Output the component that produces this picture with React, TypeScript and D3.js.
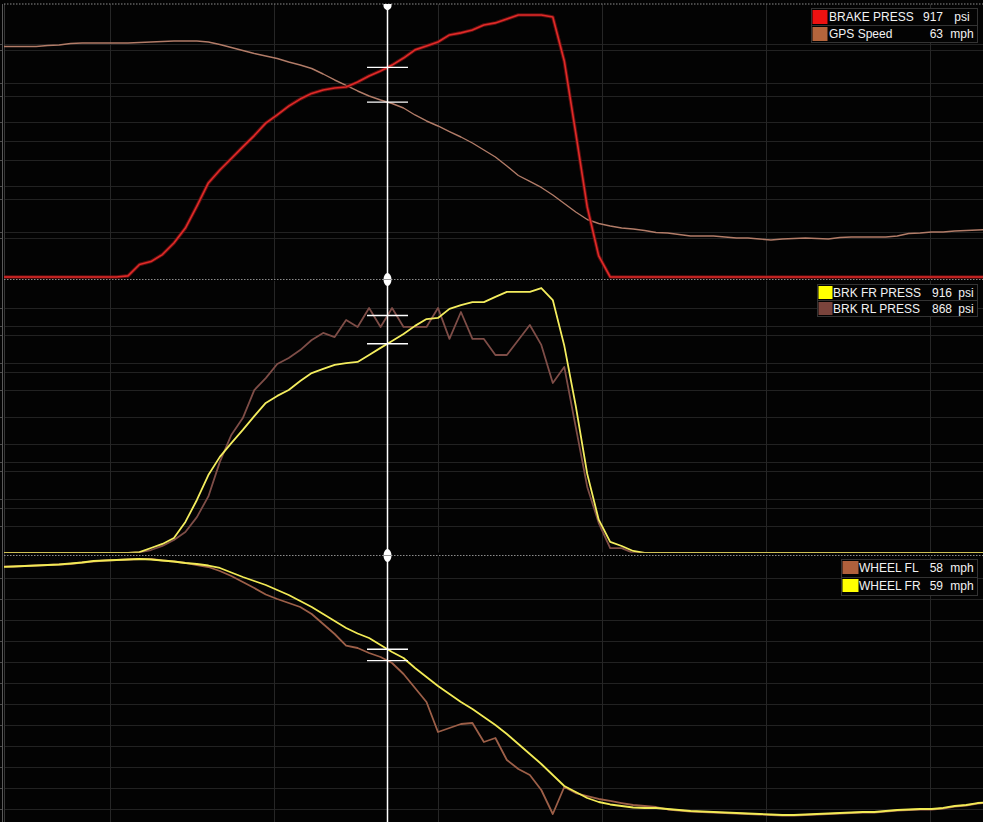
import React from 'react';
import * as d3 from 'd3';

// ---- time base (s) ----
const sampleCount = 87;
const sampleStart = 0.34;
const sampleStep = 0.07;
const sampleTime = d3.range(sampleCount).map((i) => sampleStart + i * sampleStep);
const timeDomain = [0.354, 6.323];
const gridTimes = [1, 2, 3, 4, 5, 6];
const cursorTime = 2.692;

// ---- channels ----
const brakePress = [
  0, 0, 0, 0, 0, 0, 0, 0, 0, 0, 0, 5, 55, 68, 99, 150, 216, 313, 415, 472,
  523, 574, 624, 679, 715, 754, 785, 810, 825, 834, 838, 860, 887, 909, 935, 966, 1002, 1019, 1037, 1068,
  1077, 1090, 1112, 1121, 1138, 1156, 1156, 1156, 1147, 953, 635, 309, 93, 0, 0, 0, 0, 0, 0, 0,
  0, 0, 0, 0, 0, 0, 0, 0, 0, 0, 0, 0, 0, 0, 0, 0, 0, 0, 0, 0,
  0, 0, 0, 0, 0, 0, 0,
];
const gpsSpeed = [
  83.05, 83.05, 83.05, 83.05, 83.41, 83.59, 84.13, 84.31, 84.31, 84.31, 84.31, 84.31, 84.49, 84.67, 84.85, 85.03, 85.03, 85.03, 84.67, 83.77,
  82.69, 81.61, 80.53, 79.63, 78.73, 77.46, 76.38, 75.12, 73.14, 70.98, 69.0, 67.02, 65.21, 63.77, 62.51, 60.89, 58.37, 56.21, 54.41, 52.42,
  50.44, 48.28, 45.76, 43.24, 39.99, 36.57, 34.41, 32.25, 29.54, 26.48, 23.42, 20.72, 19.28, 18.38, 17.65, 17.29, 16.75, 16.03, 15.85, 15.31,
  14.77, 14.77, 14.77, 14.41, 14.05, 14.05, 13.69, 13.33, 13.69, 13.87, 14.05, 13.87, 13.69, 14.23, 14.41, 14.41, 14.41, 14.41, 14.77, 15.67,
  15.85, 16.21, 16.21, 16.57, 16.75, 16.93, 17.11,
];
const brkFrPress = [
  0, 0, 0, 0, 0, 0, 0, 0, 0, 0, 0, 0, 4, 22, 40, 66, 137, 234, 344, 424,
  485, 543, 604, 662, 693, 719, 759, 794, 812, 830, 838, 843, 874, 905, 935, 966, 1002, 1032, 1037, 1077,
  1094, 1107, 1107, 1130, 1152, 1152, 1152, 1169, 1116, 915, 649, 349, 147, 49, 31, 9, 0, 0, 0, 0,
  0, 0, 0, 0, 0, 0, 0, 0, 0, 0, 0, 0, 0, 0, 0, 0, 0, 0, 0, 0,
  0, 0, 0, 0, 0, 0, 0,
];
const brkRlPress = [
  0, 0, 0, 0, 0, 0, 0, 0, 0, 0, 0, 0, 2, 11, 26, 48, 77, 132, 208, 335,
  434, 496, 599, 643, 695, 717, 746, 783, 809, 794, 857, 831, 901, 831, 901, 831, 831, 831, 901, 787,
  886, 787, 787, 728, 728, 783, 838, 765, 625, 684, 463, 243, 110, 18, 18, 0, 0, 0, 0, 0,
  0, 0, 0, 0, 0, 0, 0, 0, 0, 0, 0, 0, 0, 0, 0, 0, 0, 0, 0, 0,
  0, 0, 0, 0, 0, 0, 0,
];
const wheelFl = [
  83.29, 83.29, 83.43, 83.57, 83.71, 83.86, 84.0, 84.43, 84.71, 85.0, 85.14, 85.29, 85.43, 85.43, 85.0, 84.71, 84.29, 83.71, 83.14, 82.0,
  80.57, 78.86, 77.14, 75.29, 74.0, 72.86, 71.71, 69.71, 66.86, 64.0, 60.71, 60.0, 58.57, 57.43, 55.71, 52.57, 48.57, 44.57, 36.0, 37.14,
  38.29, 38.57, 33.14, 34.29, 28.0, 25.43, 23.71, 19.43, 12.57, 20.29, 18.57, 17.71, 16.86, 16.29, 15.71, 15.14, 14.86, 14.57, 13.86, 13.57,
  13.29, 13.14, 13.0, 12.86, 12.71, 12.57, 12.43, 12.29, 12.14, 12.14, 12.29, 12.43, 12.57, 12.71, 12.86, 13.0, 13.0, 13.29, 13.57, 13.71,
  13.86, 13.86, 14.14, 14.71, 15.0, 15.57, 15.86,
];
const wheelFr = [
  83.14, 83.29, 83.43, 83.57, 83.71, 83.86, 84.14, 84.43, 84.86, 85.0, 85.14, 85.29, 85.43, 85.29, 85.0, 84.71, 84.29, 84.0, 83.57, 82.86,
  81.57, 80.29, 79.14, 78.0, 76.57, 75.14, 73.43, 71.71, 69.71, 67.71, 65.71, 64.14, 62.86, 60.86, 58.86, 57.14, 54.29, 51.71, 49.14, 46.86,
  44.57, 42.57, 40.29, 38.0, 35.43, 32.57, 29.71, 26.86, 23.71, 20.57, 18.86, 17.14, 16.0, 15.29, 14.86, 14.43, 14.29, 14.29, 14.0, 13.71,
  13.43, 13.29, 13.14, 13.0, 12.86, 12.71, 12.57, 12.43, 12.29, 12.29, 12.43, 12.57, 12.71, 12.86, 13.0, 13.14, 13.14, 13.43, 13.71, 13.86,
  14.0, 14.0, 14.29, 14.86, 15.14, 15.71, 16.0,
];

// ---- legends ----
const legendNames = [['BRAKE PRESS', 'GPS Speed'], ['BRK FR PRESS', 'BRK RL PRESS'], ['WHEEL FL', 'WHEEL FR']];
const legendValues = [['917', '63'], ['916', '868'], ['58', '59']];
const legendUnits = [['psi', 'mph'], ['psi', 'psi'], ['mph', 'mph']];

const W = 983;
const H = 822;

function valueAt(values: number[], t: number) {
  const f = (t - sampleStart) / sampleStep;
  const i = Math.max(0, Math.min(values.length - 2, Math.floor(f)));
  const r = f - i;
  return values[i] * (1 - r) + values[i + 1] * r;
}

export default function App() {
  const x = d3.scaleLinear().domain(timeDomain).range([4, W]);
  const cx = Math.round(x(cursorTime)) + 0.5;

  const yBrake = d3.scaleLinear().domain([0, 1200]).range([277, 5]);
  const ySpeed = d3.scaleLinear().domain([0, 98]).range([277, 5]);
  const yFr = d3.scaleLinear().domain([0, 1200]).range([553, 281]);
  const yRl = d3.scaleLinear().domain([0, 1000]).range([553, 281]);
  const yWheel = d3.scaleLinear().domain([14, 80]).range([809, 578]);

  const panels = [
    {
      top: 4, bottom: 279,
      series: [
        { values: gpsSpeed, y: ySpeed, color: '#b27c68', width: 1.4, grid: d3.range(14, 98, 14) },
        { values: brakePress, y: yBrake, color: '#e12a28', glow: '#701212', width: 1.6, grid: d3.range(200, 1200, 200) },
      ],
      legend: { box: 811, top: 8, row: 17, swW: 15, swH: 14, label: 829, valRight: 943, unit: 962, colors: ['#ee1111', '#b4643c'] },
    },
    {
      top: 280.5, bottom: 552.7,
      series: [
        { values: brkRlPress, y: yRl, color: '#7e4d47', width: 1.8, grid: d3.range(100, 1000, 100) },
        { values: brkFrPress, y: yFr, color: '#f4ed5e', width: 1.8, grid: d3.range(200, 1200, 200) },
      ],
      legend: { box: 817, top: 284, row: 16, swW: 14, swH: 13, label: 833, valRight: 952, unit: 966, colors: ['#ffff00', '#7a443c'] },
    },
    {
      top: 556.5, bottom: H,
      series: [
        { values: wheelFl, y: yWheel, color: '#9c5f48', width: 1.8, grid: d3.range(14, 81, 6) },
        { values: wheelFr, y: yWheel, color: '#f2ea55', width: 1.8, grid: [] as number[] },
      ],
      legend: { box: 841, top: 559, row: 18, swW: 16, swH: 13, label: 859, valRight: 943, unit: 962, colors: ['#b0603c', '#ffff00'] },
    },
  ];

  const font = "'Liberation Sans', Arial, sans-serif";

  return (
    <div style={{ position: 'fixed', left: 0, top: 0, width: W, height: H, background: '#030303' }}>
      <svg width={W} height={H} style={{ display: 'block' }}>
        <defs>
          {panels.map((p, pi) => (
            <clipPath id={`clip${pi}`} key={pi}>
              <rect x={4} y={p.top} width={W - 4} height={p.bottom - p.top} />
            </clipPath>
          ))}
        </defs>
        <rect x={0} y={0} width={W} height={H} fill="#030303" />

        {/* grids */}
        {panels.map((p, pi) => (
          <g key={`g${pi}`} clipPath={`url(#clip${pi})`}>
            {p.series.map((s, si) =>
              s.grid.map((v) => (
                <line key={`${si}-${v}`} x1={4} x2={W} y1={Math.round(s.y(v)) + 0.5} y2={Math.round(s.y(v)) + 0.5} stroke="#222" strokeWidth={1} />
              ))
            )}
            {gridTimes.map((t) => (
              <line key={t} x1={Math.round(x(t)) + 0.5} x2={Math.round(x(t)) + 0.5} y1={p.top} y2={p.bottom} stroke="#262626" strokeWidth={1} />
            ))}
          </g>
        ))}
        {panels.map((p, pi) =>
          p.series.map((s, si) =>
            s.grid.map((v) => (
              <line key={`t${pi}-${si}-${v}`} x1={0} x2={3} y1={Math.round(s.y(v)) + 0.5} y2={Math.round(s.y(v)) + 0.5} stroke="#4a4a4a" strokeWidth={1} />
            ))
          )
        )}

        {/* left edge */}
        <line x1={2.5} x2={2.5} y1={4} y2={H} stroke="#5a5a5a" strokeWidth={1} />
        <line x1={4.5} x2={4.5} y1={4} y2={H} stroke="#363636" strokeWidth={1} />

        {/* series */}
        {panels.map((p, pi) => (
          <g key={`s${pi}`} clipPath={`url(#clip${pi})`}>
            {p.series.map((s, si) => {
              const gen = d3.line<number>().x((_, i) => x(sampleTime[i])).y((v) => s.y(v));
              const d = gen(s.values) || '';
              return (
                <g key={si}>
                  {'glow' in s && s.glow ? (
                    <path d={d} fill="none" stroke={s.glow as string} strokeWidth={3.6} strokeLinejoin="round" opacity={0.8} />
                  ) : null}
                  <path d={d} fill="none" stroke={s.color} strokeWidth={s.width} strokeLinejoin="round" />
                </g>
              );
            })}
          </g>
        ))}

        {/* panel dividers */}
        {[4, 279.5, 555.5].map((yv) => (
          <line key={yv} x1={4} x2={W} y1={yv} y2={yv} stroke="#8c8c8c" strokeWidth={1.2} strokeDasharray="1.5,1.5" />
        ))}

        {/* cursor */}
        <line x1={cx} x2={cx} y1={5} y2={H} stroke="#ffffff" strokeWidth={1.5} />
        <path d={`M${cx - 4},4 H${cx + 4} V6 Q${cx + 4},8.5 ${cx},10.5 Q${cx - 4},8.5 ${cx - 4},6 Z`} fill="#ffffff" />
        {[279.5, 555.5].map((yv) => (
          <g key={`m${yv}`}>
            <ellipse cx={cx} cy={yv} rx={4} ry={6.5} fill="#ffffff" />
            <line x1={cx - 4} x2={cx + 4} y1={yv} y2={yv} stroke="#9a9a9a" strokeWidth={1} />
          </g>
        ))}
        {panels.map((p) =>
          p.series.map((s, si) => {
            const yv = s.y(valueAt(s.values, cursorTime));
            return <line key={`c${p.top}-${si}`} x1={cx - 20.5} x2={cx + 20.5} y1={yv} y2={yv} stroke="#ffffff" strokeWidth={1.4} />;
          })
        )}

        {/* legends */}
        {panels.map((p, pi) => {
          const L = p.legend;
          return (
            <g key={`l${pi}`} fontFamily={font} fontSize={12} fill="#f2f2f2">
              {legendNames[pi].map((name, ri) => {
                const top = L.top + ri * L.row;
                return (
                  <g key={ri}>
                    <rect x={L.box + 0.5} y={top + 0.5} width={977 - L.box} height={L.row} fill="#030303" stroke="#333" strokeWidth={1} />
                    <rect x={L.box + 1.5} y={top + 2} width={L.swW} height={L.swH} fill={L.colors[ri]} />
                    <text x={L.label} y={top + 12.5}>{name}</text>
                    <text x={L.valRight} y={top + 12.5} textAnchor="end">{legendValues[pi][ri]}</text>
                    <text x={L.unit} y={top + 12.5} textAnchor="middle">{legendUnits[pi][ri]}</text>
                  </g>
                );
              })}
            </g>
          );
        })}
      </svg>
    </div>
  );
}
